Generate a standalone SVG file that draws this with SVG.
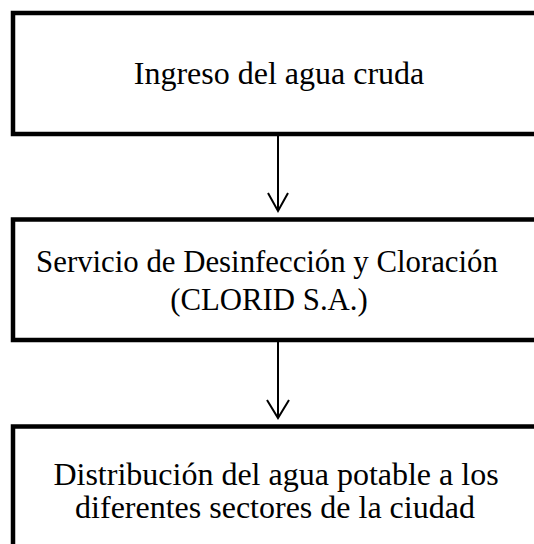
<svg xmlns="http://www.w3.org/2000/svg" width="534" height="544" viewBox="0 0 534 544">
<style>
.box{fill:#fff;stroke:#000;stroke-width:4.5}
.t{font-family:"Liberation Serif","Times New Roman",serif;font-size:32px;fill:#000;text-anchor:middle}
.s{font-size:30.8px}
.c{fill:none;stroke:#000;stroke-width:2}
</style>
<rect width="534" height="544" fill="#fff"/>
<g id="node1">
<rect class="box" x="13" y="13" width="540" height="121"/>
<text class="t" x="279" y="84">Ingreso del agua cruda</text>
</g>
<g id="node2">
<rect class="box" x="13" y="219.5" width="540" height="120.5"/>
<text class="t s" x="267" y="272">Servicio de Desinfección y Cloración</text>
<text class="t s" x="269" y="310">(CLORID S.A.)</text>
</g>
<g id="node3">
<rect class="box" x="13" y="426.5" width="540" height="140"/>
<text class="t" x="276" y="485">Distribución del agua potable a los</text>
<text class="t" x="275" y="518">diferentes sectores de la ciudad</text>
</g>
<g id="connectors">
<line class="c" x1="278" y1="136" x2="278" y2="211"/>
<polyline class="c" points="268,193 278,211 288,193"/>
<line class="c" x1="278" y1="342" x2="278" y2="418"/>
<polyline class="c" points="267,400 278,418 289,400"/>
</g>
</svg>
